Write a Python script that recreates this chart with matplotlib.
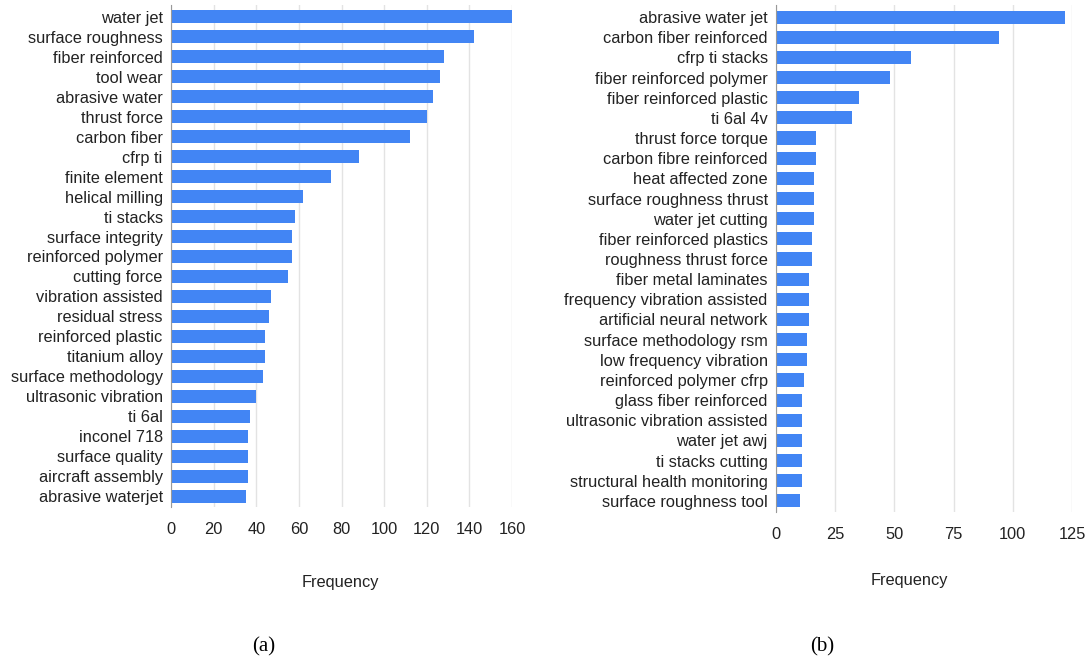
import numpy as np
import matplotlib.pyplot as plt

plt.rcParams['font.family'] = ['Liberation Sans', 'DejaVu Sans']

# (a) bigrams
terms_a = ['water jet', 'surface roughness', 'fiber reinforced', 'tool wear',
           'abrasive water', 'thrust force', 'carbon fiber', 'cfrp ti',
           'finite element', 'helical milling', 'ti stacks', 'surface integrity',
           'reinforced polymer', 'cutting force', 'vibration assisted',
           'residual stress', 'reinforced plastic', 'titanium alloy',
           'surface methodology', 'ultrasonic vibration', 'ti 6al', 'inconel 718',
           'surface quality', 'aircraft assembly', 'abrasive waterjet']
freq_a = [160, 142, 128, 126, 123, 120, 112, 88, 75, 62, 58, 57, 57, 55, 47,
          46, 44, 44, 43, 40, 37, 36, 36, 36, 35]
ticks_a = [0, 20, 40, 60, 80, 100, 120, 140, 160]

# (b) trigrams
terms_b = ['abrasive water jet', 'carbon fiber reinforced', 'cfrp ti stacks',
           'fiber reinforced polymer', 'fiber reinforced plastic', 'ti 6al 4v',
           'thrust force torque', 'carbon fibre reinforced', 'heat affected zone',
           'surface roughness thrust', 'water jet cutting',
           'fiber reinforced plastics', 'roughness thrust force',
           'fiber metal laminates', 'frequency vibration assisted',
           'artificial neural network', 'surface methodology rsm',
           'low frequency vibration', 'reinforced polymer cfrp',
           'glass fiber reinforced', 'ultrasonic vibration assisted',
           'water jet awj', 'ti stacks cutting', 'structural health monitoring',
           'surface roughness tool']
freq_b = [122, 94, 57, 48, 35, 32, 17, 17, 16, 16, 16, 15, 15, 14, 14, 14,
          13, 13, 12, 11, 11, 11, 11, 11, 10]
ticks_b = [0, 25, 50, 75, 100, 125]

W, H = 1091, 661
FS = 11.8
fig = plt.figure(figsize=(W/100, H/100), dpi=100)

def panel(rect, terms, freq, ticks):
    ax = fig.add_axes(rect)
    y = np.arange(len(terms))
    ax.barh(y, freq, height=0.65, color='#4285F4', zorder=3)
    ax.set_yticks(y)
    ax.set_yticklabels(terms, fontsize=FS, color='#222222')
    ax.set_ylim(len(terms) - 0.45, -0.6)
    ax.set_xticks(ticks)
    ax.set_xticklabels([str(t) for t in ticks], fontsize=FS, color='#222222')
    ax.set_xlim(0, ticks[-1])
    ax.grid(axis='x', color='#e3e3e3', linewidth=1, zorder=0)
    ax.tick_params(length=0)
    ax.tick_params(axis='x', pad=11)
    ax.tick_params(axis='y', pad=6)
    for s in ['top', 'right', 'bottom']:
        ax.spines[s].set_visible(False)
    ax.spines['left'].set_color('#999999')
    ax.spines['left'].set_zorder(4)
    return ax

panel([171/W, 1-507/H, (512-171)/W, (507-5)/H], terms_a, freq_a, ticks_a)
panel([776/W, 1-512/H, (1072-776)/W, (512-5)/H], terms_b, freq_b, ticks_b)

fig.text(340/W, 1-583/H, 'Frequency', ha='center', va='center', fontsize=FS, color='#222222')
fig.text(909/W, 1-581/H, 'Frequency', ha='center', va='center', fontsize=FS, color='#222222')
fig.text(264/W, 1-647/H, '(a)', ha='center', va='center', fontsize=15,
         family=['Liberation Serif', 'DejaVu Serif'])
fig.text(822/W, 1-647/H, '(b)', ha='center', va='center', fontsize=15,
         family=['Liberation Serif', 'DejaVu Serif'])

fig.savefig('out.png', dpi=100)
